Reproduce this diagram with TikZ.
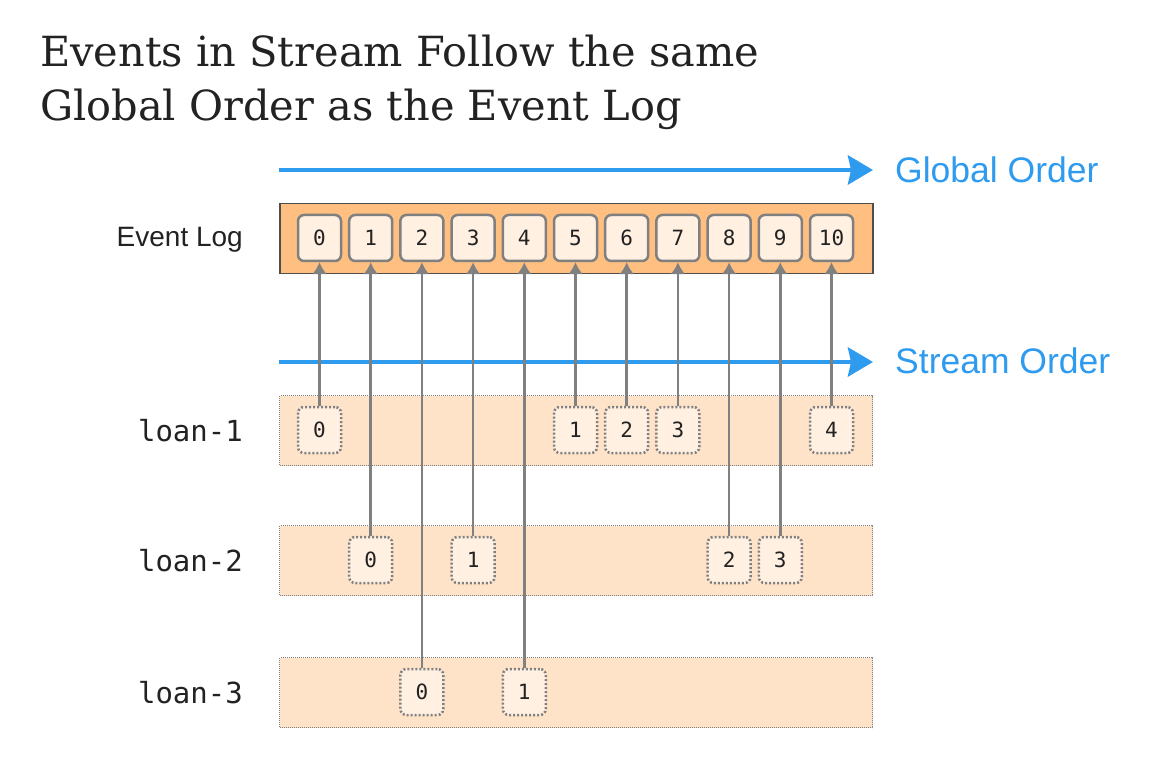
\documentclass[tikz,border=0pt]{standalone}
\usepackage{fontspec}
\usetikzlibrary{arrows.meta}
\setmainfont{Liberation Sans}
\newfontfamily\titlefont{DejaVu Serif}
\newfontfamily\monofont{DejaVu Sans Mono}
\definecolor{bordergray}{HTML}{808080}
\definecolor{cellfill}{HTML}{FFF0E2}
\definecolor{logfill}{HTML}{FFBF80}
\definecolor{bandfill}{HTML}{FEE3C8}
\definecolor{ordblue}{HTML}{2F9BEF}
\definecolor{txt}{HTML}{222222}
\tikzset{
  cell/.style={rectangle, rounded corners=6pt, draw=bordergray, line width=2.5pt, fill=cellfill,
    minimum width=43pt, minimum height=46pt, inner sep=0pt, text=txt,
    font=\monofont\fontsize{21}{21}\selectfont},
  scell/.style={cell, dash pattern=on 2pt off 2pt},
  band/.style={rectangle, fill=bandfill, draw=bordergray, line width=1pt, dash pattern=on 1pt off 1pt,
    minimum width=593pt, minimum height=70pt, inner sep=0pt, anchor=north west},
  logbox/.style={rectangle, fill=logfill, draw=txt!80, line width=1.5pt,
    minimum width=593pt, minimum height=70pt, inner sep=0pt, anchor=north west},
  link/.style={draw=bordergray, line width=2.5pt, -{Latex[length=12pt,width=15pt]}},
  ordarrow/.style={draw=ordblue, line width=4.5pt, -{Stealth[length=25pt,width=29pt,inset=3pt]}},
  ordlabel/.style={anchor=base west, text=ordblue, inner sep=0pt, font=\fontsize{35.5}{35.5}\selectfont},
  rowlabel/.style={anchor=base east, text=txt, inner sep=0pt, font=\monofont\fontsize{29}{29}\selectfont},
  titletext/.style={anchor=base west, text=txt, inner sep=0pt, font=\titlefont\fontsize{41.5}{41.5}\selectfont}
}
\begin{document}
\begin{tikzpicture}[x=1pt,y=-1pt]
\useasboundingbox (0,0) rectangle (1169,775);
% title
\node[titletext] (t1) at (40,67) {Events in Stream Follow the same};
\node[titletext] (t2) at (40,121) {Global Order as the Event Log};
% order arrows
\coordinate (g0) at (279,170);
\coordinate (g1) at (873,170);
\draw[ordarrow] (g0) -- (g1);
\node[ordlabel] (gl) at (895,183) {Global Order};
\coordinate (s0) at (279,362);
\coordinate (s1) at (873,362);
\draw[ordarrow] (s0) -- (s1);
\node[ordlabel] (sl) at (895,373) {Stream Order};
% event log
\node[anchor=base east, text=txt, inner sep=0pt, font=\fontsize{28}{28}\selectfont] (ell) at (243,247) {Event Log};
\node[logbox] (log) at (279,203) {};
\foreach \i in {0,...,10} {
  \node[cell] (c\i) at ({319.5+51.2*\i},238) {\i};
}
% bands
\node[band] (b1) at (279,395) {};
\node[band] (b2) at (279,525) {};
\node[band] (b3) at (279,657) {};
\node[rowlabel] (l1) at (243,441) {loan-1};
\node[rowlabel] (l2) at (243,571) {loan-2};
\node[rowlabel] (l3) at (243,703) {loan-3};
% stream events: name/col/label/row y
\foreach \n/\c/\t/\y in {a0/0/0/430, a1/5/1/430, a2/6/2/430, a3/7/3/430, a4/10/4/430,
                          e0/1/0/560, e1/3/1/560, e2/8/2/560, e3/9/3/560,
                          d0/2/0/692, d1/4/1/692} {
  \node[scell] (\n) at ({319.5+51.2*\c},\y) {\t};
  \draw[link] (\n.north) -- (c\c.south);
}
\end{tikzpicture}
\end{document}
